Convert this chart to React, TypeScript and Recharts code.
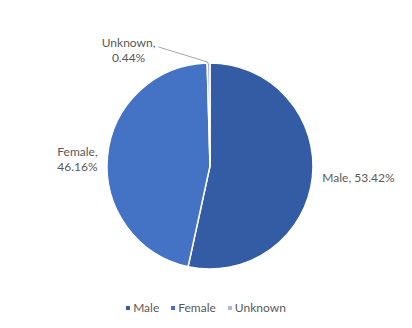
import { PieChart, Pie, Cell } from 'recharts';

// data
const categories = ['Male', 'Female', 'Unknown'];
const shares = [53.42, 46.16, 0.44];
const colors = ['#335CA5', '#4472C4', '#A9BAE0'];

const pieData = categories.map((name, i) => ({ name, value: shares[i] }));

const RAD = Math.PI / 180;
const FONT = 'Lato, sans-serif';
const LINE = 14.5;

// custom label: one line on the right, two stacked lines elsewhere
const renderLabel = (props: any) => {
  const { cx, cy, midAngle, outerRadius, name, value } = props;
  const cos = Math.cos(-midAngle * RAD);
  const sin = Math.sin(-midAngle * RAD);
  const pct = `${value.toFixed(2)}%`;
  const style = { fontFamily: FONT, fontSize: 12, fill: '#595959' };

  if (value < 2) {
    // small slice: leader line up to the left
    const ex = cx + outerRadius * cos;
    const ey = cy + outerRadius * sin;
    const lx = ex - 50;
    const ly = ey - 16;
    return (
      <g>
        <polyline
          points={`${ex},${ey + 2} ${ex - 1},${ey - 1} ${lx},${ly}`}
          fill="none"
          stroke="#A6A6A6"
          strokeWidth={1}
        />
        <text x={lx - 30} y={ly} textAnchor="middle" {...style}>
          <tspan x={lx - 30}>{`${name},`}</tspan>
          <tspan x={lx - 30} dy={LINE}>{pct}</tspan>
        </text>
      </g>
    );
  }

  const r = outerRadius + 12;
  const x = cx + r * cos;
  const y = cy + r * sin;
  if (cos > 0) {
    return (
      <text x={x - 2} y={y + 4} textAnchor="start" {...style}>{`${name}, ${pct}`}</text>
    );
  }
  return (
    <text x={x - 18} y={y + 1} textAnchor="middle" {...style}>
      <tspan x={x - 18}>{`${name},`}</tspan>
      <tspan x={x - 18} dy={LINE}>{pct}</tspan>
    </text>
  );
};

const LegendRow = () => (
  <div
    style={{
      position: 'absolute',
      left: 0,
      top: 300,
      width: 412,
      display: 'flex',
      justifyContent: 'center',
      fontFamily: FONT,
      fontSize: 12,
      color: '#595959',
    }}
  >
    {categories.map((c, i) => (
      <span key={c} style={{ display: 'flex', alignItems: 'center', margin: '0 6px' }}>
        <span style={{ width: 4, height: 4, background: colors[i], marginRight: 3 }} />
        {c}
      </span>
    ))}
  </div>
);

export default function App() {
  return (
    <div style={{ position: 'absolute', left: 0, top: 0, width: 412, height: 328, background: '#fff' }}>
      <PieChart width={412} height={328} margin={{ top: 0, right: 0, bottom: 0, left: 0 }}>
        <Pie
          data={pieData}
          dataKey="value"
          nameKey="name"
          cx={210}
          cy={166}
          outerRadius={103}
          startAngle={90}
          endAngle={-270}
          stroke="#FFFFFF"
          strokeWidth={1.5}
          label={renderLabel}
          labelLine={false}
          isAnimationActive={false}
        >
          {pieData.map((d, i) => (
            <Cell key={d.name} fill={colors[i]} />
          ))}
        </Pie>
      </PieChart>
      <LegendRow />
    </div>
  );
}
